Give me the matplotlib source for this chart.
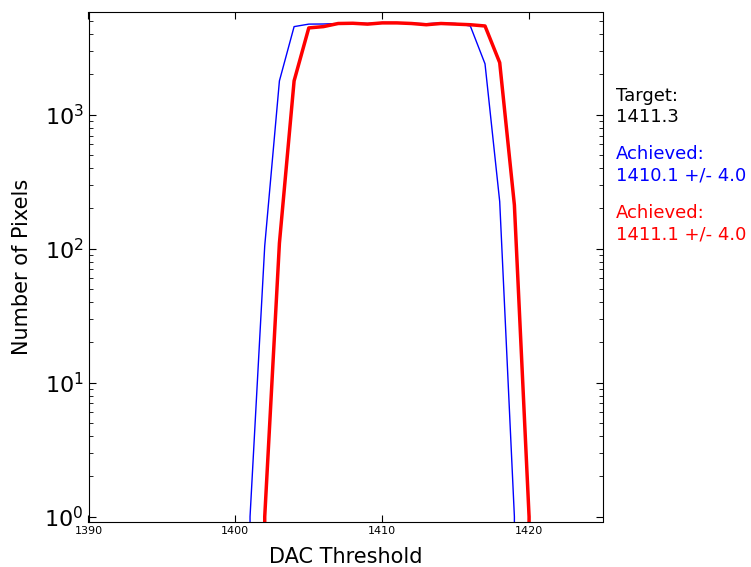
import matplotlib
matplotlib.use("Agg")
import matplotlib.pyplot as plt
from matplotlib.ticker import LogLocator, NullFormatter

blue_x = [1400, 1401, 1402, 1403, 1404, 1405, 1406, 1407, 1408, 1409, 1410,
          1411, 1412, 1413, 1414, 1415, 1416, 1417, 1418, 1419, 1420]
blue_y = [0, 1, 105, 1790, 4550, 4750, 4760, 4800, 4850, 4800, 4880,
          4870, 4820, 4780, 4850, 4800, 4600, 2400, 225, 1, 0]

red_x = [1401, 1402, 1403, 1404, 1405, 1406, 1407, 1408, 1409, 1410, 1411,
         1412, 1413, 1414, 1415, 1416, 1417, 1418, 1419, 1420, 1421]
red_y = [0, 1, 110, 1790, 4450, 4550, 4800, 4820, 4750, 4850, 4850,
         4800, 4700, 4800, 4750, 4700, 4600, 2450, 212, 1, 0]

x_ticks = [1390, 1400, 1410, 1420]
target_text = "Target:\n1411.3"
blue_text = "Achieved:\n1410.1 +/- 4.0"
red_text = "Achieved:\n1411.1 +/- 4.0"

fig = plt.figure(figsize=(7.51, 5.67), dpi=100)
ax = fig.add_axes([88.5 / 751, (567 - 521.5) / 567, 514 / 751, 510 / 567])

ax.plot(blue_x, blue_y, color="blue", lw=1.0)
ax.plot(red_x, red_y, color="red", lw=2.5)

ax.set_yscale("log", nonpositive="clip")
ax.set_xlim(1390, 1425)
ax.set_ylim(0.92, 5900)
ax.set_xticks(x_ticks)
ax.set_xticklabels([str(t) for t in x_ticks])
ax.yaxis.set_major_locator(LogLocator(base=10, numticks=10))
ax.yaxis.set_minor_locator(LogLocator(base=10, subs=range(2, 10), numticks=20))
ax.yaxis.set_minor_formatter(NullFormatter())
ax.tick_params(axis="both", which="both", direction="in", top=True, right=True)
ax.tick_params(axis="x", labelsize=8, length=5)
ax.tick_params(axis="y", which="major", labelsize=16, length=5)
ax.tick_params(axis="y", which="minor", length=3)

ax.set_xlabel("DAC Threshold", fontsize=15, labelpad=8)
ax.set_ylabel("Number of Pixels", fontsize=15, labelpad=9)

fig.text(616 / 751, 1 - 87 / 567, target_text, color="black", fontsize=13, va="top", ha="left", linespacing=1.25)
fig.text(616 / 751, 1 - 145 / 567, blue_text, color="blue", fontsize=13, va="top", ha="left", linespacing=1.25)
fig.text(616 / 751, 1 - 204 / 567, red_text, color="red", fontsize=13, va="top", ha="left", linespacing=1.25)

fig.savefig("out.png", dpi=100)
